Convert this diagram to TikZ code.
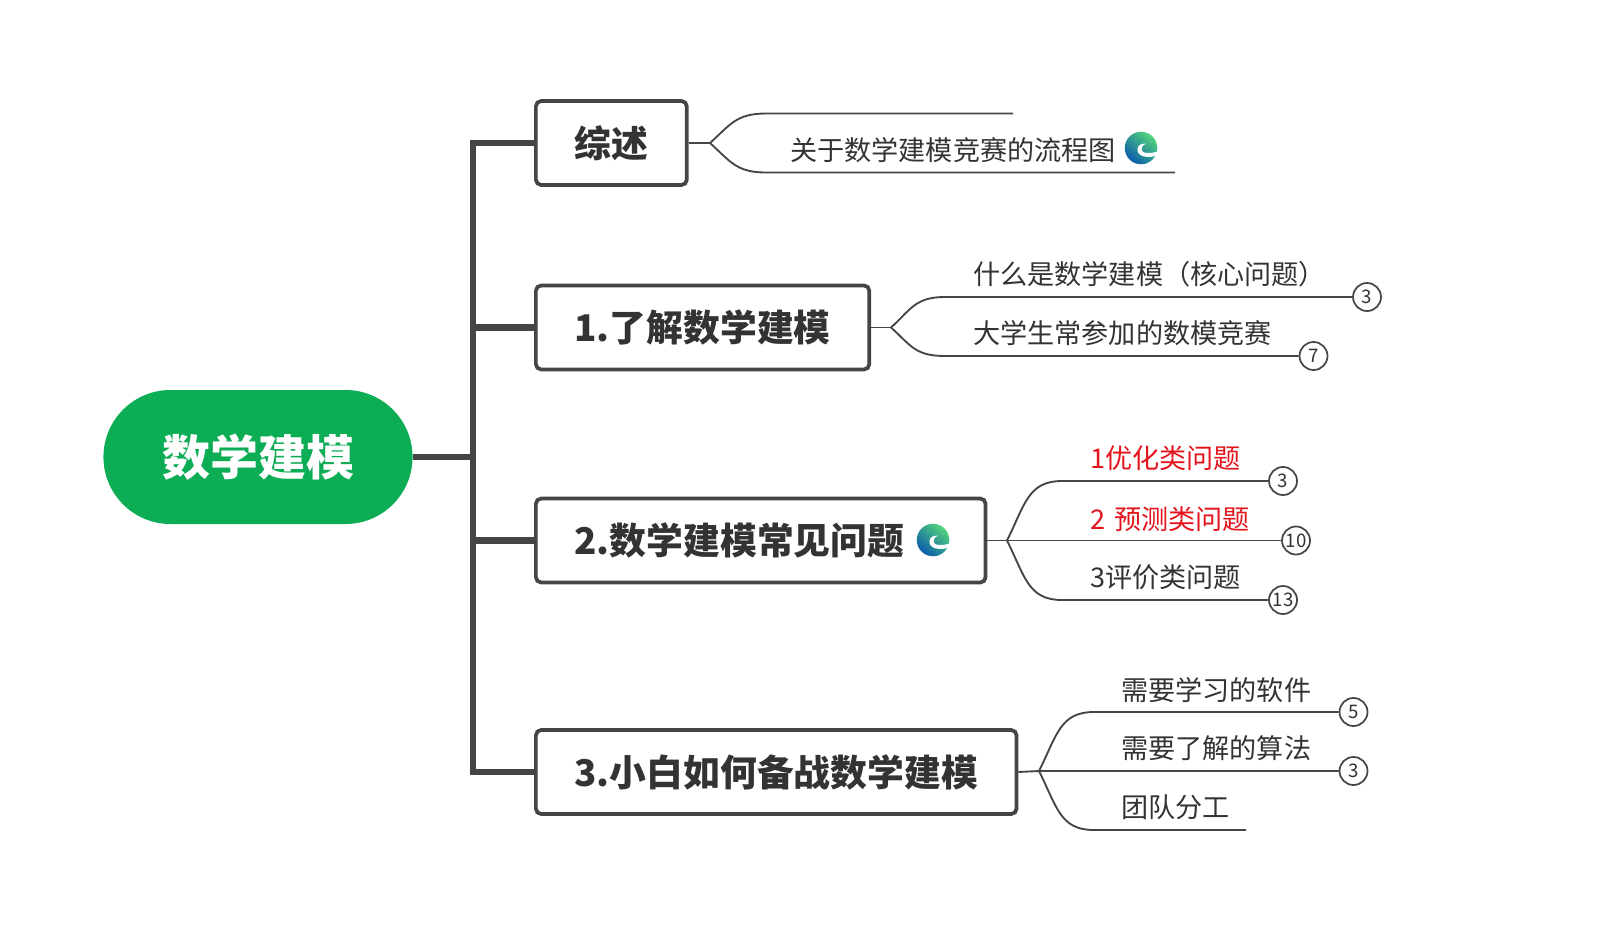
\documentclass[tikz,border=0pt]{standalone}
\usepackage{xcolor}
\usepackage{fontspec}
\setmainfont{Noto Sans CJK SC}
\usetikzlibrary{calc,shapes.misc}
\definecolor{rootcolor}{HTML}{0CAD54}
\definecolor{linecolor}{HTML}{454545}
\definecolor{textcolor}{HTML}{333333}
\definecolor{redtext}{HTML}{E3141C}
\definecolor{edgegreen}{HTML}{52D47A}
\definecolor{edgemid}{HTML}{1C96D4}
\definecolor{edgeblue}{HTML}{0C5CAC}
\tikzset{
  root/.style={rounded rectangle,fill=rootcolor,text=white,minimum width=238.5pt,minimum height=100.5pt,
    font=\fontsize{36}{40}\selectfont\bfseries},
  topic/.style={draw=linecolor,line width=2.8pt,rounded corners=4pt,fill=white,text=textcolor,anchor=west,
    minimum height=63pt,inner xsep=29pt,inner ysep=0pt,font=\fontsize{27.6}{32}\selectfont\bfseries},
  leaf/.style={anchor=west,inner sep=0pt,text=textcolor,font=\fontsize{20.35}{24}\selectfont},
  count/.style={circle,draw=linecolor,line width=1.3pt,fill=white,minimum size=21pt,inner sep=0pt,
    text=textcolor,font=\fontsize{14}{16}\selectfont},
  trunk/.style={line width=4.6pt,draw=linecolor},
  twig/.style={line width=1.4pt,draw=linecolor}
}
\newcommand{\edgeicon}[1]{%
  \begin{scope}[shift={(#1)},x=12.2pt,y=-12.2pt]
    \shade[top color=edgegreen,middle color=edgemid,bottom color=edgeblue,shading angle=-40] (0,0) circle (1);
    \fill[white] (1.05,0.2) .. controls (0.7,0.33) and (0.35,0.33) .. (0.17,0.27)
      .. controls (-0.05,0.15) and (0,-0.15) .. (0.3,-0.27)
      .. controls (-0.3,-0.32) and (-0.4,0.32) .. (0.1,0.5)
      .. controls (0.45,0.6) and (0.8,0.55) .. (1.05,0.42) -- cycle;
  \end{scope}}

\begin{document}
\begin{tikzpicture}[x=0.75pt,y=-0.75pt]
  \useasboundingbox (0,0) rectangle (1615,935);
  % Root and topics
  \node[root] (root) at (258,457) {\raisebox{-2.8pt}{数学建模}};
  \node[topic] (intro) at (534,143) {\raisebox{-2pt}{综述}};
  \node[topic] (know) at (534,327.5) {\raisebox{-1.6pt}{1.了解数学建模}};
  \node[topic] (common) at (534,540.5) {\raisebox{-1.6pt}{2.数学建模常见问题}\hspace*{32pt}};
  \node[topic] (prep) at (534,772) {\raisebox{-1.2pt}{3.小白如何备战数学建模}};
  \edgeicon{933,540}
  % Trunk
  \coordinate (hub) at (473,457);
  \draw[trunk] (root.east) -- (hub);
  \foreach \t in {intro,know,common,prep}
    \draw[trunk] (hub) |- (\t.west);
  % Overview branch
  \coordinate (fork1) at (710,143);
  \coordinate (end1a) at (1013,113.5);
  \coordinate (end1b) at (1175,172.5);
  \draw[twig] (intro.east) -- (fork1);
  \draw[twig] (fork1) .. controls +(20,-18) and +(-30,0) .. (766,113.5) -- (end1a);
  \draw[twig] (fork1) .. controls +(20,18) and +(-30,0) .. (766,172.5) -- (end1b);
  \node[leaf] (flow) at (790,150) {关于数学建模竞赛的流程图};
  \edgeicon{1141,148}
  % Branch of the first part
  \coordinate (fork2) at (891,327.5);
  \node[count] (c2a) at (1367,297) {3};
  \node[count] (c2b) at (1313.5,356) {7};
  \draw[twig] (know.east) -- (fork2);
  \draw[twig] (fork2) .. controls +(20,-18) and +(-30,0) .. (945,297) -- (c2a);
  \draw[twig] (fork2) .. controls +(20,18) and +(-30,0) .. (945,356) -- (c2b);
  \node[leaf] (what) at (973,274) {什么是数学建模（核心问题）};
  \node[leaf] (contest) at (973,333) {大学生常参加的数模竞赛};
  % Branch of the second part
  \coordinate (fork3) at (1007,540.5);
  \node[count] (c3a) at (1283,481) {3};
  \node[count] (c3b) at (1296,540.5) {10};
  \node[count] (c3c) at (1283,600) {13};
  \draw[twig] (common.east) -- (fork3);
  \draw[twig] (fork3) .. controls +(18,-36) and +(-34,0) .. (1062,481) -- (c3a);
  \draw[twig] (fork3) -- (c3b);
  \draw[twig] (fork3) .. controls +(18,36) and +(-34,0) .. (1062,600) -- (c3c);
  \node[leaf,text=redtext] (opt) at (1090,458) {1优化类问题};
  \node[leaf,text=redtext] (pred) at (1090,519) {2\hspace{2pt} 预测类问题};
  \node[leaf] (eval) at (1090,577) {3评价类问题};
  % Branch of the third part
  \coordinate (fork4) at (1039,771);
  \coordinate (end4c) at (1246,830);
  \node[count] (c4a) at (1353.5,712) {5};
  \node[count] (c4b) at (1353.5,771) {3};
  \draw[twig] (prep.east) -- (fork4);
  \draw[twig] (fork4) .. controls +(18,-36) and +(-34,0) .. (1094,712) -- (c4a);
  \draw[twig] (fork4) -- (c4b);
  \draw[twig] (fork4) .. controls +(18,36) and +(-34,0) .. (1094,830) -- (end4c);
  \node[leaf] (soft) at (1121,690) {需要学习的软件};
  \node[leaf] (algo) at (1121,748) {需要了解的算法};
  \node[leaf] (team) at (1121,807) {团队分工};
\end{tikzpicture}
\end{document}
